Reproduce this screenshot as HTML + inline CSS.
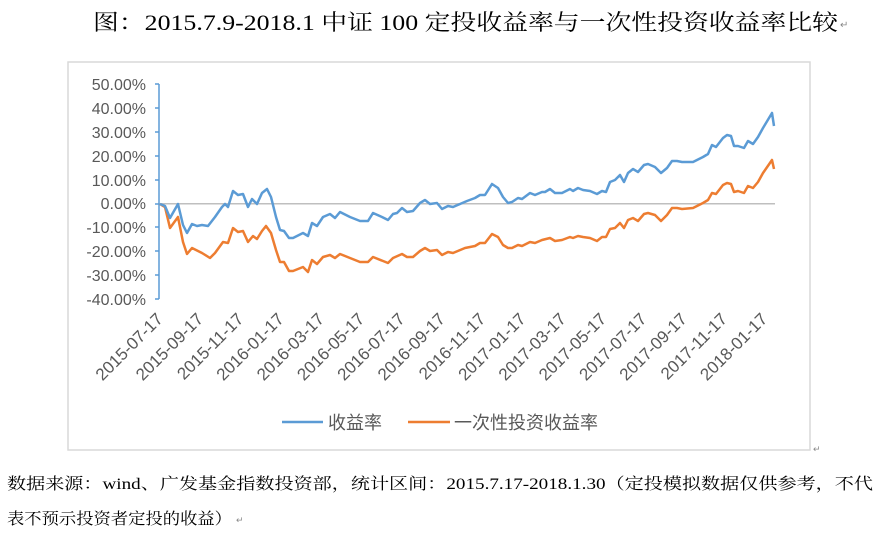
<!DOCTYPE html>
<html><head><meta charset="utf-8"><style>
html,body{margin:0;padding:0;background:#fff;}
svg{display:block;}
</style></head><body>
<svg width="884" height="541" viewBox="0 0 884 541" xmlns="http://www.w3.org/2000/svg">
<rect width="884" height="541" fill="#fff"/>
<text x="93" y="30" font-family="'Liberation Serif','Noto Serif CJK SC',serif" font-size="22" fill="#000" textLength="745" lengthAdjust="spacingAndGlyphs">图：2015.7.9-2018.1 中证 100 定投收益率与一次性投资收益率比较</text>
<text x="840" y="28" font-family="'Liberation Sans',sans-serif" font-size="10" fill="#888">↵</text>
<rect x="68" y="62" width="742" height="388" fill="#fff" stroke="#d9d9d9" stroke-width="1.5"/>
<g font-family="'Liberation Sans',sans-serif" font-size="16" fill="#595959" text-anchor="end">
<text x="146" y="90">50.00%</text>
<text x="146" y="114">40.00%</text>
<text x="146" y="138">30.00%</text>
<text x="146" y="162">20.00%</text>
<text x="146" y="186">10.00%</text>
<text x="146" y="209">0.00%</text>
<text x="146" y="233">-10.00%</text>
<text x="146" y="257">-20.00%</text>
<text x="146" y="281">-30.00%</text>
<text x="146" y="305">-40.00%</text>
</g>
<line x1="159" y1="203.7" x2="775" y2="203.7" stroke="#bfbfbf" stroke-width="1.5"/>
<line x1="159" y1="84" x2="159" y2="299" stroke="#5b9bd5" stroke-width="1.5"/>
<g stroke="#5b9bd5" stroke-width="1.5">
<line x1="155" y1="84" x2="159" y2="84"/><line x1="155" y1="108" x2="159" y2="108"/><line x1="155" y1="132" x2="159" y2="132"/><line x1="155" y1="156" x2="159" y2="156"/><line x1="155" y1="180" x2="159" y2="180"/><line x1="155" y1="204" x2="159" y2="204"/><line x1="155" y1="227" x2="159" y2="227"/><line x1="155" y1="251" x2="159" y2="251"/><line x1="155" y1="275" x2="159" y2="275"/><line x1="155" y1="299" x2="159" y2="299"/>
</g>
<polyline fill="none" stroke="#ed7d31" stroke-width="2.5" stroke-linejoin="round" points="160,204 165,207 170,228 178,217 183,242 187,254 192,248 202,253 210,258 215,253 223,242 228,243 233,228 238,232 243,231 248,242 253,236 257,239 262,231 266,226 271,233 276,250 280,262 284,262 289,271 293,271 303,267 308,272 312,260 317,264 323,257 330,255 335,258 340,254 350,258 360,262 368,262 373,257 388,263 393,258 402,254 407,257 413,257 420,251 425,248 430,251 437,250 442,255 448,252 453,253 465,248 475,246 480,243 485,243 492,234 498,237 503,245 508,248 512,248 518,245 522,246 530,242 535,243 542,240 550,238 555,241 562,240 570,237 573,238 578,236 583,237 590,238 597,241 602,237 606,237 610,229 615,228 620,223 624,228 628,220 633,218 638,221 644,214 648,213 655,215 661,221 667,215 672,208 677,208 682,209 693,208 703,203 708,200 712,193 716,194 723,185 727,183 731,184 734,192 738,191 744,193 748,186 753,188 758,182 763,173 772,160 774,169"/>
<polyline fill="none" stroke="#5b9bd5" stroke-width="2.5" stroke-linejoin="round" points="160,204 165,206 170,218 178,204 183,225 187,233 192,224 197,226 202,225 208,226 215,217 222,207 225,204 228,207 233,191 238,195 243,194 248,207 252,199 257,204 262,193 267,189 271,197 276,217 280,230 284,231 289,238 293,238 303,233 308,236 312,223 317,226 323,217 330,214 335,218 340,212 350,217 360,221 368,221 373,213 382,217 388,220 393,214 397,213 402,208 407,212 413,211 420,203 425,200 430,204 437,203 442,209 448,206 453,207 467,201 475,198 480,195 485,195 492,184 498,188 503,197 508,203 512,202 518,198 522,199 530,193 535,195 542,192 545,192 550,189 555,193 562,193 570,189 573,191 578,188 583,190 590,191 597,194 602,191 606,192 610,182 615,180 620,175 624,182 628,173 633,169 638,172 644,165 648,164 655,167 661,173 667,168 672,161 677,161 682,162 693,162 703,157 708,154 712,145 716,147 723,138 727,135 731,136 734,146 738,146 744,148 748,141 753,144 758,137 763,128 772,113 774,126"/>
<g font-family="'Liberation Sans',sans-serif" font-size="17" fill="#595959" text-anchor="end">
<text transform="translate(164,320) rotate(-45)">2015-07-17</text>
<text transform="translate(204.3,320) rotate(-45)">2015-09-17</text>
<text transform="translate(244.6,320) rotate(-45)">2015-11-17</text>
<text transform="translate(284.9,320) rotate(-45)">2016-01-17</text>
<text transform="translate(325.2,320) rotate(-45)">2016-03-17</text>
<text transform="translate(365.5,320) rotate(-45)">2016-05-17</text>
<text transform="translate(405.8,320) rotate(-45)">2016-07-17</text>
<text transform="translate(446.1,320) rotate(-45)">2016-09-17</text>
<text transform="translate(486.4,320) rotate(-45)">2016-11-17</text>
<text transform="translate(526.7,320) rotate(-45)">2017-01-17</text>
<text transform="translate(567,320) rotate(-45)">2017-03-17</text>
<text transform="translate(607.3,320) rotate(-45)">2017-05-17</text>
<text transform="translate(647.6,320) rotate(-45)">2017-07-17</text>
<text transform="translate(687.9,320) rotate(-45)">2017-09-17</text>
<text transform="translate(728.2,320) rotate(-45)">2017-11-17</text>
<text transform="translate(768.5,320) rotate(-45)">2018-01-17</text>
</g>
<line x1="282" y1="422" x2="323" y2="422" stroke="#5b9bd5" stroke-width="2.5"/>
<text x="328" y="429" font-family="'Liberation Sans','Noto Sans CJK SC',sans-serif" font-size="18" fill="#595959">收益率</text>
<line x1="408" y1="422" x2="450" y2="422" stroke="#ed7d31" stroke-width="2.5"/>
<text x="454" y="429" font-family="'Liberation Sans','Noto Sans CJK SC',sans-serif" font-size="18" fill="#595959">一次性投资收益率</text>
<text x="813" y="452" font-family="'Liberation Sans',sans-serif" font-size="9" fill="#888">↵</text>
<text x="7" y="489" font-family="'Liberation Serif','Noto Serif CJK SC',serif" font-size="16" fill="#000" textLength="866" lengthAdjust="spacingAndGlyphs">数据来源：wind、广发基金指数投资部，统计区间：2015.7.17-2018.1.30（定投模拟数据仅供参考，不代</text>
<text x="7" y="524" font-family="'Liberation Serif','Noto Serif CJK SC',serif" font-size="16" fill="#000" textLength="225" lengthAdjust="spacingAndGlyphs">表不预示投资者定投的收益）</text>
<text x="236" y="523" font-family="'Liberation Sans',sans-serif" font-size="9" fill="#888">↵</text>
</svg>
</body></html>
